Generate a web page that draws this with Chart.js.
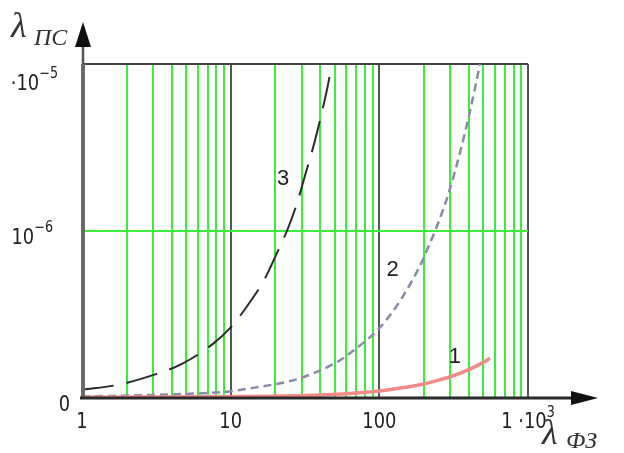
<!DOCTYPE html>
<html><head><meta charset="utf-8">
<script src="https://cdn.jsdelivr.net/npm/chart.js@4.4.0/dist/chart.umd.min.js"></script>
<style>html,body{margin:0;padding:0;background:#fff}canvas{display:block}</style>
</head><body>
<canvas id="c" width="624" height="453"></canvas>
<script>
// ---- data ----
const curve3X = [1, 1.75, 3.0, 4.7, 7.6, 9.9, 13.9, 17, 20.5, 23.9, 27.9, 31.6, 36.9, 41.8, 45, 48];
const curve3Y = [1.12e-7, 1.2e-7, 1.37e-7, 1.6e-7, 2.11e-7, 2.62e-7, 3.9e-7, 5.2e-7, 7.4e-7, 1.0e-6, 1.46e-6, 2.14e-6, 3.48e-6, 5.5e-6, 7.4e-6, 1e-5];
const curve2X = [1, 5.3, 9.4, 14.1, 23.9, 30.6, 51.9, 60.5, 80, 99.4, 140, 196, 212, 237, 270, 298, 349, 407, 445, 475];
const curve2Y = [1.02e-7, 1.06e-7, 1.09e-7, 1.15e-7, 1.25e-7, 1.33e-7, 1.64e-7, 1.8e-7, 2.18e-7, 2.6e-7, 3.9e-7, 6.7e-7, 7.9e-7, 1.0e-6, 1.36e-6, 1.78e-6, 2.95e-6, 5.2e-6, 7.5e-6, 1e-5];
const curve1X = [1, 28, 60.5, 99.4, 150, 196, 250, 307, 400, 480, 555];
const curve1Y = [1.01e-7, 1.03e-7, 1.06e-7, 1.1e-7, 1.16e-7, 1.21e-7, 1.28e-7, 1.35e-7, 1.48e-7, 1.6e-7, 1.73e-7];

const curveNames = ['1', '2', '3'];
const curveLabelX = [322, 123, 22.5];
const curveLabelY = [1.76e-7, 5.84e-7, 2.04e-6];

const xGridValues = [1,2,3,4,5,6,7,8,9,10,20,30,40,50,60,70,80,90,100,200,300,400,500,600,700,800,900,1000];
const xDecades = [1, 10, 100, 1000];
const yGridValues = [1e-7, 1e-6, 1e-5];

const xTickValues = [1, 10, 100, 1000];
const xTickText = ['1', '10', '100', '1 \u00B710'];
const xTickExp = ['', '', '', '3'];
const yTickValues = [1e-7, 1e-6, 1e-5];
const yTickText = ['0', '10', '\u00B710'];
const yTickExp = ['', '\u22126', '\u22125'];

const xTitle = ['\u03BB', '\u0424\u0417'];
const yTitle = ['\u03BB', '\u041F\u0421'];

const toPts = (xs, ys) => xs.map((x, i) => ({x, y: ys[i]}));

function drawScaled(ctx, text, x, y, font, sx) {
  ctx.save();
  ctx.font = font;
  ctx.translate(x, y);
  ctx.scale(sx, 1);
  ctx.fillText(text, 0, 0);
  ctx.restore();
}
function width(ctx, text, font, sx) { ctx.font = font; return ctx.measureText(text).width * sx; }

const TICK_FONT = '21px "DejaVu Sans"';
const EXP_FONT = '15px "DejaVu Sans"';
const SX = 0.85;

const decor = {
  id: 'decor',
  afterDraw(chart) {
    const ctx = chart.ctx, xs = chart.scales.x, ys = chart.scales.y, a = chart.chartArea;
    ctx.save();
    // y axis line + arrow
    ctx.strokeStyle = '#6a6a6a'; ctx.lineWidth = 4;
    ctx.beginPath(); ctx.moveTo(a.left + 1, a.bottom); ctx.lineTo(a.left + 1, a.top); ctx.stroke();
    ctx.lineWidth = 2.5; ctx.strokeStyle = '#555';
    ctx.beginPath(); ctx.moveTo(a.left + 1, a.top); ctx.lineTo(a.left + 1, 44); ctx.stroke();
    ctx.fillStyle = '#111';
    ctx.beginPath(); ctx.moveTo(a.left + 1, 22); ctx.lineTo(a.left - 7, 47); ctx.lineTo(a.left + 9, 47); ctx.closePath(); ctx.fill();
    // x axis line + arrow
    ctx.strokeStyle = '#2a2a2a'; ctx.lineWidth = 3;
    ctx.beginPath(); ctx.moveTo(a.left - 2, a.bottom); ctx.lineTo(574, a.bottom); ctx.stroke();
    ctx.beginPath(); ctx.moveTo(598, a.bottom); ctx.lineTo(571, a.bottom - 7); ctx.lineTo(571, a.bottom + 7); ctx.closePath(); ctx.fill();

    // x tick labels
    ctx.fillStyle = '#222'; ctx.textBaseline = 'alphabetic'; ctx.textAlign = 'left';
    xTickValues.forEach((v, i) => {
      const px = xs.getPixelForValue(v);
      const w1 = width(ctx, xTickText[i], TICK_FONT, SX);
      const w2 = xTickExp[i] ? width(ctx, xTickExp[i], EXP_FONT, SX) : 0;
      const x0 = px - (w1 + w2) / 2;
      drawScaled(ctx, xTickText[i], x0, 428, TICK_FONT, SX);
      if (xTickExp[i]) drawScaled(ctx, xTickExp[i], x0 + w1, 417, EXP_FONT, SX);
    });
    // y tick labels
    const yRight = [70, 53, 58];
    yTickValues.forEach((v, i) => {
      const py = Math.max(ys.getPixelForValue(v) + 13, 90);
      const w1 = width(ctx, yTickText[i], TICK_FONT, SX);
      const w2 = yTickExp[i] ? width(ctx, yTickExp[i], EXP_FONT, SX) : 0;
      const x0 = yRight[i] - w1 - w2;
      drawScaled(ctx, yTickText[i], x0, py, TICK_FONT, SX);
      if (yTickExp[i]) drawScaled(ctx, yTickExp[i], x0 + w1, py - 12, EXP_FONT, SX);
    });

    // curve labels
    ctx.font = '22px "Liberation Sans"'; ctx.textAlign = 'center'; ctx.textBaseline = 'middle'; ctx.fillStyle = '#222';
    curveNames.forEach((n, i) => ctx.fillText(n, xs.getPixelForValue(curveLabelX[i]), ys.getPixelForValue(curveLabelY[i])));

    // axis titles
    ctx.textAlign = 'left'; ctx.textBaseline = 'alphabetic'; ctx.fillStyle = '#333';
    ctx.font = 'italic 36px "Liberation Serif"';
    ctx.fillText(yTitle[0], 11, 37);
    ctx.font = 'italic 24px "Liberation Serif"';
    ctx.fillText(yTitle[1], 34, 45);
    ctx.font = 'italic 36px "Liberation Serif"';
    ctx.fillText(xTitle[0], 542, 444);
    ctx.font = 'italic 24px "Liberation Serif"';
    ctx.fillText(xTitle[1], 566, 448);
    ctx.restore();
  }
};

new Chart(document.getElementById('c'), {
  type: 'scatter',
  data: {
    datasets: [
      { data: toPts(curve1X, curve1Y), showLine: true, borderColor: '#f28a86', borderWidth: 3.5, pointRadius: 0, cubicInterpolationMode: 'monotone' },
      { data: toPts(curve2X, curve2Y), showLine: true, borderColor: '#8a8aa8', borderWidth: 2.5, borderDash: [8, 5], pointRadius: 0, cubicInterpolationMode: 'monotone' },
      { data: toPts(curve3X, curve3Y), showLine: true, borderColor: '#2a2a2a', borderWidth: 2, borderDash: [32, 13], pointRadius: 0, cubicInterpolationMode: 'monotone' }
    ]
  },
  options: {
    responsive: false, animation: false,
    layout: { padding: { left: 82, right: 96, top: 64, bottom: 55 } },
    plugins: { legend: { display: false }, tooltip: { enabled: false } },
    scales: {
      x: {
        type: 'logarithmic', min: 1, max: 1000,
        afterBuildTicks: s => { s.ticks = xGridValues.map(v => ({ value: v })); },
        ticks: { display: false },
        border: { display: false },
        grid: {
          drawTicks: false,
          color: c => xDecades.includes(c.tick.value) ? '#555' : '#3cee3c',
          lineWidth: 2
        }
      },
      y: {
        type: 'logarithmic', min: 1e-7, max: 1e-5,
        afterBuildTicks: s => { s.ticks = yGridValues.map(v => ({ value: v })); },
        ticks: { display: false },
        border: { display: false },
        grid: {
          drawTicks: false,
          color: c => c.tick.value === 1e-6 ? '#3cee3c' : '#444',
          lineWidth: 2
        }
      }
    }
  },
  plugins: [decor]
});
</script>
</body></html>
